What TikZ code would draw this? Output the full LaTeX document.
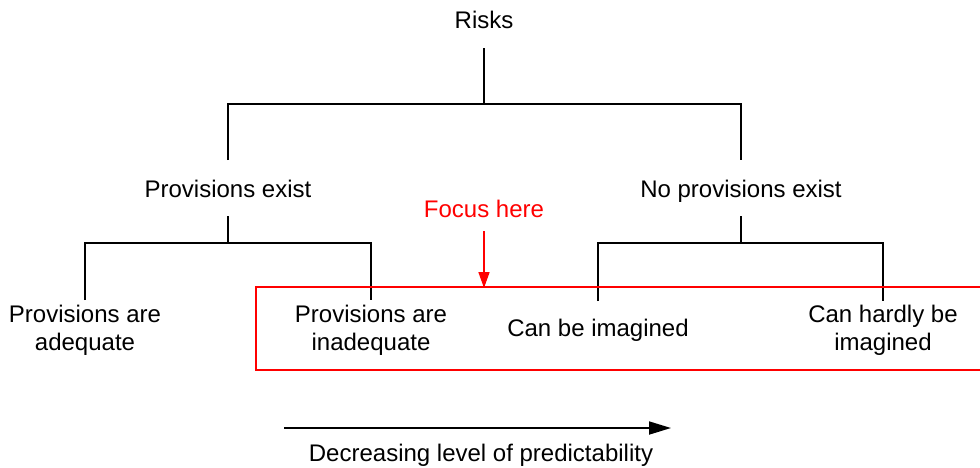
\documentclass[tikz,border=0pt]{standalone}
\usepackage{fontspec}
\setmainfont{Liberation Sans}
\usetikzlibrary{arrows.meta}
\begin{document}
\begin{tikzpicture}[x=1pt,y=-1pt,
  lbl/.style={font=\fontsize{24}{27.5}\selectfont, align=center, inner sep=0pt, anchor=base},
  focuslbl/.style={lbl, text=red},
  tree/.style={draw=black, line width=1.7pt},
  redline/.style={draw=red, line width=1.7pt},
  redarrow/.style={redline, -{Triangle[length=16pt,width=11pt]}},
  trend/.style={draw=black, line width=1.7pt, -{Triangle[length=22pt,width=13pt]}}]
\useasboundingbox (0,0) rectangle (980,467);

% labels (a two-line label sits on the baseline of its last line)
\node[lbl] (risks) at (484,28) {Risks};
\node[lbl] (pe)  at (228,197) {Provisions exist};
\node[lbl] (npe) at (741,197) {No provisions exist};
\node[lbl] (pa)  at (85,350)  {Provisions are\\adequate};
\node[lbl] (pi)  at (371,350) {Provisions are\\inadequate};
\node[lbl] (ci)  at (598,336) {Can be imagined};
\node[lbl] (ch)  at (883,350) {Can hardly be\\imagined};
\node[focuslbl] (focus) at (484,217) {Focus here};
\node[lbl] (dec) at (481,461) {Decreasing level of predictability};

% branch junctions and line ends
\coordinate (r0) at (484,48);
\coordinate (r1) at (484,104);
\coordinate (pe0) at (228,216);
\coordinate (pe1) at (228,243);
\coordinate (npe0) at (741,216);
\coordinate (npe1) at (741,243);

% first level
\draw[tree] (r0) -- (r1);
\draw[tree] (pe.north |- 0,160) -- (pe.north |- r1) -- (npe.north |- r1) -- (npe.north |- 0,160);

% second level, left
\draw[tree] (pe0) -- (pe1);
\draw[tree] (pa.north |- 0,300) -- (pa.north |- pe1) -- (pi.north |- pe1) -- (pi.north |- 0,300);

% second level, right
\draw[tree] (npe0) -- (npe1);
\draw[tree] (ci.north |- 0,301) -- (ci.north |- npe1) -- (ch.north |- npe1) -- (ch.north |- 0,301);

% focus frame, open towards the right edge
\coordinate (fr0) at (980,287);
\coordinate (fr1) at (980,370);
\draw[redline] (fr0) -- (256,287) -- (256,370) -- (fr1);

% focus pointer
\coordinate (fa) at (484,288);
\draw[redarrow] (focus.south |- 0,231) -- (fa);

% predictability trend
\coordinate (t0) at (284,428);
\coordinate (t1) at (671,428);
\draw[trend] (t0) -- (t1);
\end{tikzpicture}
\end{document}
